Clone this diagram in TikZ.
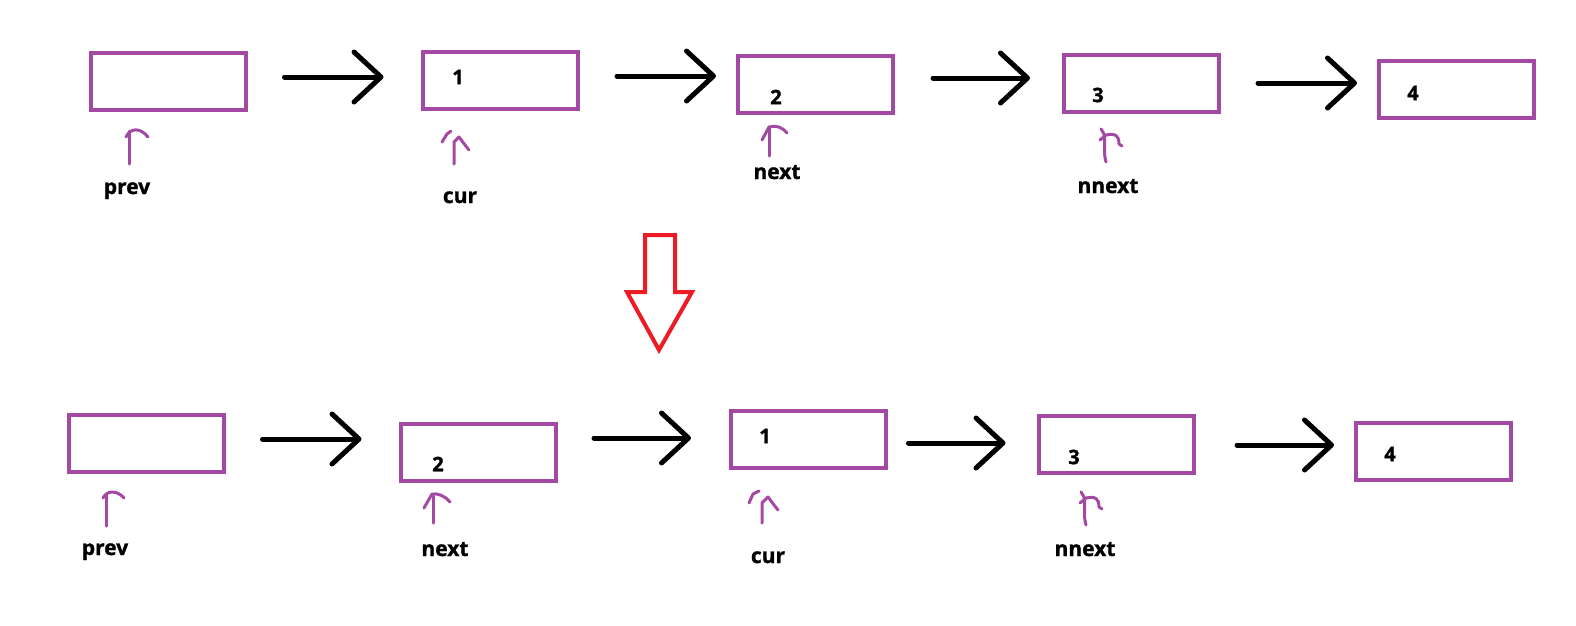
\documentclass[tikz,border=0pt]{standalone}
\usepackage{fontspec}
\setmainfont{Open Sans}[BoldFeatures={FakeBold=1.2}]
\usetikzlibrary{arrows.meta}
\definecolor{listpurple}{RGB}{163,73,164}
\definecolor{flipred}{RGB}{237,28,36}
\tikzset{cell/.style={draw=listpurple,line width=4pt,minimum width=155pt,minimum height=57pt,inner sep=0pt}}
\tikzset{link/.style={line width=5pt,line cap=round,-{Straight Barb[length=27pt,width=50pt,round]}}}
\tikzset{ptr/.style={draw=listpurple,line width=3pt,line cap=round,line join=round}}
\tikzset{num/.style={font=\fontsize{20}{24}\selectfont\bfseries,inner sep=0pt}}
\tikzset{lbl/.style={font=\fontsize{21}{25}\selectfont\bfseries,anchor=base,inner sep=0pt}}

\begin{document}
\begin{tikzpicture}[x=1pt,y=-1pt]
                  \useasboundingbox (0,0) rectangle (1576,625);
                  % before: prev -> 1 -> 2 -> 3 -> 4
                  \node[cell] (top0) at (168,81.5) {};
                  \node[cell] (top1) at (500.5,80) {};
                  \node[cell] (top2) at (815.5,84.5) {};
                  \node[cell] (top3) at (1141.5,83) {};
                  \node[cell] (top4) at (1456.5,89.5) {};
                  \node[num] (n1a) at (458,77) {1};
                  \node[num] (n2a) at (776,97) {2};
                  \node[num] (n3a) at (1098,95) {3};
                  \node[num] (n4a) at (1413,93) {4};
                  \draw[link] (top0.east) ++(37,-4.5) -- ++(99,0);
                  \draw[link] (top1.east) ++(37,-4) -- ++(99,0);
                  \draw[link] (top2.east) ++(38,-6.5) -- ++(97,0);
                  \draw[link] (top3.east) ++(37,0) -- ++(99,0);
                  \node[lbl] (prevA) at (127,194) {prev};
                  \node[lbl] (curA) at (460,203) {cur};
                  \node[lbl] (nextA) at (777,179) {next};
                  \node[lbl] (nnextA) at (1108,193) {nnext};
                  \draw[ptr] (129,164) -- (129,131);
                  \draw[ptr] (126,137) .. controls (130,128) and (140,127) .. (148,137);
                  \draw[ptr] (454,164) -- (454,142) -- (459,137) -- (465,145) -- (469,150);
                  \draw[ptr] (442,142) -- (447,134) -- (451,131);
                  \draw[ptr] (769,156) -- (769,128);
                  \draw[ptr] (762,140) -- (769,127) .. controls (776,125) and (782,127) .. (787,133);
                  \draw[ptr] (1106,162) .. controls (1103,152) and (1106,146) .. (1104,134) -- (1101,129);
                  \draw[ptr] (1100,140) -- (1106,135) .. controls (1116,133) and (1119,136) .. (1119,144) -- (1122,146);
                  % turn-over arrow
                  \draw[flipred,line width=4pt] (645,235) -- (675,235) -- (675,292) -- (692,292) -- (659,350) -- (627,292) -- (645,292) -- cycle;
                  % after: prev -> 2 -> 1 -> 3 -> 4
                  \node[cell] (bot0) at (146,443) {};
                  \node[cell] (bot2) at (478.5,452) {};
                  \node[cell] (bot1) at (808,439.5) {};
                  \node[cell] (bot3) at (1116.5,444) {};
                  \node[cell] (bot4) at (1433.5,451.5) {};
                  \node[num] (n2b) at (438,464) {2};
                  \node[num] (n1b) at (765,436) {1};
                  \node[num] (n3b) at (1074,457) {3};
                  \node[num] (n4b) at (1390,454) {4};
                  \draw[link] (bot0.east) ++(37,-4) -- ++(99,0);
                  \draw[link] (bot2.east) ++(36,-14) -- ++(97,0);
                  \draw[link] (bot1.east) ++(21,3.5) -- ++(97,0);
                  \draw[link] (bot3.east) ++(41,1) -- ++(97,0);
                  \node[lbl] (prevB) at (105,555) {prev};
                  \node[lbl] (nextB) at (445,556) {next};
                  \node[lbl] (curB) at (768,563) {cur};
                  \node[lbl] (nnextB) at (1085,556) {nnext};
                  \draw[ptr] (106,526) -- (106,494);
                  \draw[ptr] (103,498) .. controls (107,490) and (117,490) .. (124,498);
                  \draw[ptr] (433,523) -- (433,496);
                  \draw[ptr] (424,508) -- (432,494) .. controls (438,493) and (445,496) .. (450,502);
                  \draw[ptr] (762,523) -- (762,503) -- (768,497) -- (774,505) -- (778,510);
                  \draw[ptr] (749,503) -- (753,494) -- (759,491);
                  \draw[ptr] (1086,525) .. controls (1083,515) and (1086,509) .. (1084,497) -- (1081,492);
                  \draw[ptr] (1080,503) -- (1086,498) .. controls (1096,496) and (1099,499) .. (1099,507) -- (1102,509);
              \end{tikzpicture}
\end{document}
